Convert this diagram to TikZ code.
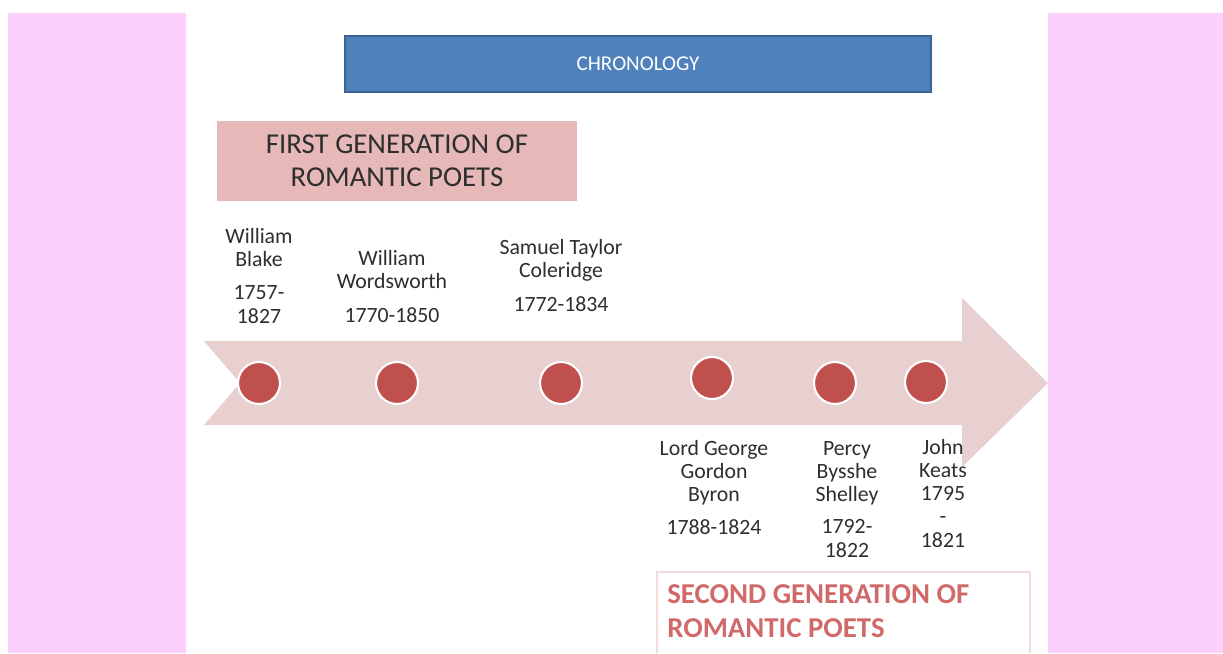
\documentclass[tikz,border=0pt]{standalone}
\usepackage{fontspec}
\setmainfont{Carlito}
\usepackage{tikz}

\definecolor{panelpink}{HTML}{FCD0FC}
\definecolor{headblue}{HTML}{4F81BD}
\definecolor{headborder}{HTML}{3A6396}
\definecolor{genpink}{HTML}{E6B9B8}
\definecolor{arrowpink}{HTML}{E8D0D0}
\definecolor{dotred}{HTML}{C0504D}
\definecolor{framepink}{HTML}{F2DCDB}
\definecolor{gentext}{HTML}{D06A6A}
\definecolor{bodytext}{HTML}{2E2E2E}

\tikzset{
  poet/.style={align=center, inner sep=0pt, anchor=base, text=bodytext,
    font=\fontsize{12.4}{13.1}\selectfont},
  dot/.style={circle, fill=dotred, draw=white, line width=1.2pt,
    minimum size=0.84cm, inner sep=0pt},
  headbox/.style={rectangle, fill=headblue, draw=headborder, line width=0.8pt,
    text=white, font=\fontsize{12}{14}\selectfont},
  genbox/.style={rectangle, fill=genpink, text=bodytext, align=center,
    font=\fontsize{16.4}{19}\selectfont}
}

\begin{document}
\begin{tikzpicture}[x=0.02cm,y=-0.02cm]
		\useasboundingbox (0,0) rectangle (1223,653);

		\fill[panelpink] (8,13) rectangle (186,653);
		\fill[panelpink] (1048,13) rectangle (1223,653);

		\node[headbox, minimum width=11.72cm, minimum height=1.12cm] (chron) at (638,64) {CHRONOLOGY};
		\node[genbox, minimum width=7.2cm, minimum height=1.6cm] (firstgen) at (397,161) {FIRST GENERATION OF\\ROMANTIC POETS};

		% the time line
		\fill[arrowpink] (204,341) -- (962,341) -- (962,298) -- (1048,383)
			-- (962,467) -- (962,425) -- (204,425) -- (240,383) -- cycle;

		\foreach \x/\y [count=\i] in {259/383, 397/383, 561/383, 712/378, 835/383, 926/382}
			\node[dot] (d\i) at (\x,\y) {};

		% base of a poet node = baseline of its last line
		\node[poet] (blake) at (259,323) {William\\Blake\\[6pt]1757-\\1827};
		\node[poet] (wordsworth) at (392,322) {William\\Wordsworth\\[6pt]1770-1850};
		\node[poet] (coleridge) at (561,311) {Samuel Taylor\\Coleridge\\[6pt]1772-1834};
		\node[poet] (byron) at (714,534) {Lord George\\Gordon\\Byron\\[5.5pt]1788-1824};
		\node[poet] (shelley) at (847,557) {Percy\\Bysshe\\Shelley\\[5.5pt]1792-\\1822};
		\node[poet] (keats) at (943,547) {John\\Keats\\1795\\-\\1821};

		\draw[framepink, line width=0.8pt] (657,653) |- (1030,572) -- (1030,653);
		\node[anchor=north west, align=left, inner sep=0pt, text=gentext,
			font=\fontsize{16.4}{19.4}\bfseries\selectfont] (secondgen) at (667,584) {SECOND GENERATION OF\\ROMANTIC POETS};
	\end{tikzpicture}
\end{document}
